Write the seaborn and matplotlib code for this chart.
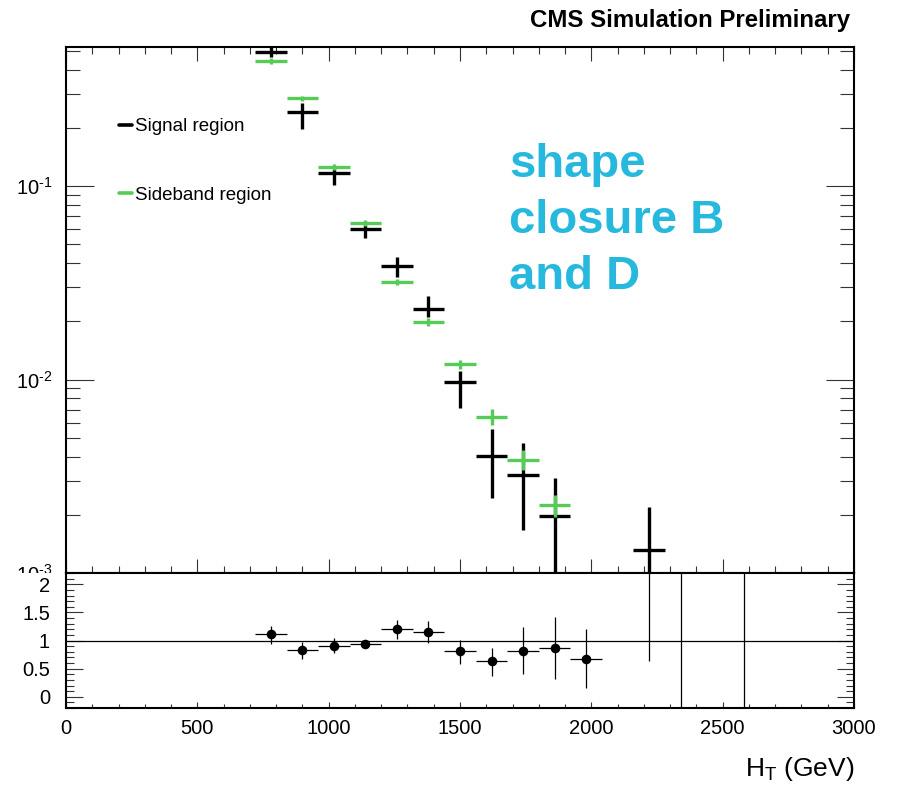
import numpy as np
import pandas as pd
import matplotlib
matplotlib.use("Agg")
import matplotlib.pyplot as plt
import matplotlib.ticker as mticker
import matplotlib.transforms as mtransforms
from matplotlib.lines import Line2D
import seaborn as sns

# ---------------- data ----------------
bin_half = 60.0

signal_x = [780, 900, 1020, 1140, 1260, 1380, 1500, 1620, 1740, 1860, 2220]
signal_y = [0.495, 0.242, 0.117, 0.0604, 0.0388, 0.0231, 0.0097, 0.00403, 0.0032, 0.00196, 0.00131]
signal_lo = [0.465, 0.197, 0.1012, 0.0543, 0.0340, 0.0211, 0.00713, 0.00245, 0.00166, 0.0, 0.0]
signal_hi = [0.525, 0.269, 0.1254, 0.0654, 0.0431, 0.0271, 0.01108, 0.00553, 0.0047, 0.00311, 0.00219]

side_x = [780, 900, 1020, 1140, 1260, 1380, 1500, 1620, 1740, 1860]
side_y = [0.444, 0.285, 0.126, 0.0646, 0.032, 0.0199, 0.012, 0.00641, 0.00386, 0.00224]
side_err = [0.016, 0.0085, 0.0045, 0.0023, 0.0011, 0.00095, 0.0007, 0.0006, 0.00045, 0.0003]

ratio_x = [780, 900, 1020, 1140, 1260, 1380, 1500, 1620, 1740, 1860, 1980]
ratio_y = [1.12, 0.84, 0.91, 0.93, 1.20, 1.16, 0.82, 0.63, 0.82, 0.87, 0.68]
ratio_lo = [0.94, 0.67, 0.78, 0.87, 1.03, 0.95, 0.59, 0.37, 0.41, 0.32, 0.16]
ratio_hi = [1.26, 0.98, 1.04, 0.99, 1.37, 1.35, 1.01, 0.86, 1.24, 1.41, 1.20]

# bins whose ratio is off scale: only error band visible
over_x = [2220, 2340, 2580]
over_lo = [0.63, -1.0, -1.0]
over_hi = [10.0, 10.0, 10.0]

legend_labels = ["Signal region", "Sideband region"]
title_text = "CMS Simulation Preliminary"
note_lines = ["shape", "closure B", "and D"]
xlabel = r"H$_{\mathrm{T}}$ (GeV)"

black = "#000000"
green = "#55CC55"
cyan = "#27B8DE"

# ---------------- style ----------------
sns.set_theme(style="ticks")
plt.rcParams["font.family"] = ["Liberation Sans", "DejaVu Sans"]
plt.rcParams["mathtext.fontset"] = "custom"
plt.rcParams["mathtext.rm"] = "Liberation Sans"
plt.rcParams["mathtext.it"] = "Liberation Sans:italic"
plt.rcParams["mathtext.bf"] = "Liberation Sans:bold"
plt.rcParams["mathtext.default"] = "regular"
plt.rcParams["text.color"] = "black"
plt.rcParams["axes.labelcolor"] = "black"

W, H = 897, 785
fig = plt.figure(figsize=(W / 100, H / 100), dpi=100)

L, R = 66 / W, 854 / W
y_top, y_mid, y_bot = 47, 573, 708
ax = fig.add_axes([L, 1 - y_mid / H, R - L, (y_mid - y_top) / H])
ax2 = fig.add_axes([L, 1 - y_bot / H, R - L, (y_bot - y_mid) / H], sharex=ax)

tick_col = "#333333"
for a in (ax, ax2):
    for s in a.spines.values():
        s.set_linewidth(1.5)
        s.set_color("black")
        s.set_visible(True)


def pow_label(v):
    return "10$^{\u2010%d}$" % int(round(-np.log10(v)))


# ---------------- upper panel ----------------
df_sig = pd.DataFrame({"x": signal_x, "y": signal_y, "lo": signal_lo, "hi": signal_hi})
df_side = pd.DataFrame({"x": side_x, "y": side_y, "e": side_err})

ax.errorbar(df_sig["x"], df_sig["y"], xerr=bin_half,
            yerr=[df_sig["y"] - df_sig["lo"], df_sig["hi"] - df_sig["y"]],
            fmt="none", ecolor=black, elinewidth=2.4, capsize=0, zorder=3)
ax.errorbar(df_side["x"], df_side["y"], xerr=bin_half, yerr=df_side["e"],
            fmt="none", ecolor=green, elinewidth=2.4, capsize=0, zorder=4)

ax.set_yscale("log")
ax.set_ylim(1e-3, 0.525)
ax.set_xlim(0, 3000)
ax.yaxis.set_major_locator(mticker.FixedLocator([1e-3, 1e-2, 1e-1]))
ax.yaxis.set_major_formatter(mticker.FuncFormatter(
    lambda v, p: "" if v < 2e-3 else pow_label(v)))
ax.yaxis.set_minor_locator(mticker.LogLocator(base=10, subs=np.arange(2, 10)))
ax.yaxis.set_minor_formatter(mticker.NullFormatter())
ax.xaxis.set_major_locator(mticker.MultipleLocator(500))
ax.xaxis.set_minor_locator(mticker.MultipleLocator(100))
ax.tick_params(axis="both", which="both", direction="in", top=True, right=True,
               bottom=True, left=True, color=tick_col, width=0.8, labelcolor="black")
ax.tick_params(axis="y", which="major", length=20, pad=10, labelsize=14.5)
ax.tick_params(axis="y", which="minor", length=10)
ax.tick_params(axis="x", which="major", length=10, labelbottom=False)
ax.tick_params(axis="x", which="minor", length=5)
ax.set_xlabel("")
ax.set_ylabel("")

# clipped 10^-3 label (partly hidden by the ratio pad, as in the original)
lbl_tr = mtransforms.offset_copy(ax.get_yaxis_transform(), fig=fig, x=-10, y=0, units="points")
t3 = fig.text(0, 1e-3, pow_label(1e-3), transform=lbl_tr, ha="right",
              va="center_baseline", fontsize=14.5)
t3.set_clip_on(True)
t3.set_clip_box(mtransforms.TransformedBbox(
    mtransforms.Bbox.from_extents(0, 1 - y_mid / H, 1, 1), fig.transFigure))

# legend
handles = [Line2D([], [], color=black, lw=2.6), Line2D([], [], color=green, lw=2.6)]
ax.legend(handles, legend_labels, loc="upper left",
          bbox_to_anchor=(119 / W, 1 - 118 / H), bbox_transform=fig.transFigure,
          frameon=False, handlelength=0.7, handletextpad=0.15, labelspacing=2.75,
          borderpad=0, borderaxespad=0, fontsize=13.5)

# annotation text
for i, line in enumerate(note_lines):
    fig.text(509 / W, 1 - (177 + 56 * i) / H, line, color=cyan, fontsize=34,
             fontweight="bold", ha="left", va="baseline")

fig.text(850 / W, 1 - 27 / H, title_text, fontsize=17.3, fontweight="bold",
         ha="right", va="baseline")

# ---------------- ratio panel ----------------
df_r = pd.DataFrame({"x": ratio_x, "y": ratio_y, "lo": ratio_lo, "hi": ratio_hi})
ax2.axhline(1.0, color=black, lw=0.9, zorder=1)
ax2.errorbar(df_r["x"], df_r["y"], xerr=bin_half,
             yerr=[df_r["y"] - df_r["lo"], df_r["hi"] - df_r["y"]],
             fmt="none", ecolor=black, elinewidth=0.9, capsize=0, zorder=2)
sns.scatterplot(data=df_r, x="x", y="y", ax=ax2, color=black, s=48,
                edgecolor=black, linewidth=0, zorder=3, legend=False)
ax2.vlines(over_x, over_lo, over_hi, color=black, lw=0.9, zorder=2)

ax2.set_ylim(-0.2, 2.2)
ax2.set_xlim(0, 3000)
ax2.yaxis.set_major_locator(mticker.FixedLocator([0, 0.5, 1, 1.5, 2]))
ax2.yaxis.set_major_formatter(mticker.FuncFormatter(lambda v, p: ("%g" % v)))
ax2.yaxis.set_minor_locator(mticker.MultipleLocator(0.1))
ax2.tick_params(axis="both", which="both", direction="in", top=False, right=True,
                bottom=True, left=True, color=tick_col, width=0.8, labelcolor="black")
ax2.tick_params(axis="y", which="major", length=12, pad=11.5, labelsize=14.5)
ax2.tick_params(axis="y", which="minor", length=6)
ax2.tick_params(axis="x", which="major", length=4, pad=8, labelsize=14.5)
ax2.tick_params(axis="x", which="minor", length=3)
ax2.set_ylabel("")
ax2.set_xlabel(xlabel, fontsize=19, loc="right", labelpad=12)

fig.savefig("out.png", dpi=100)
